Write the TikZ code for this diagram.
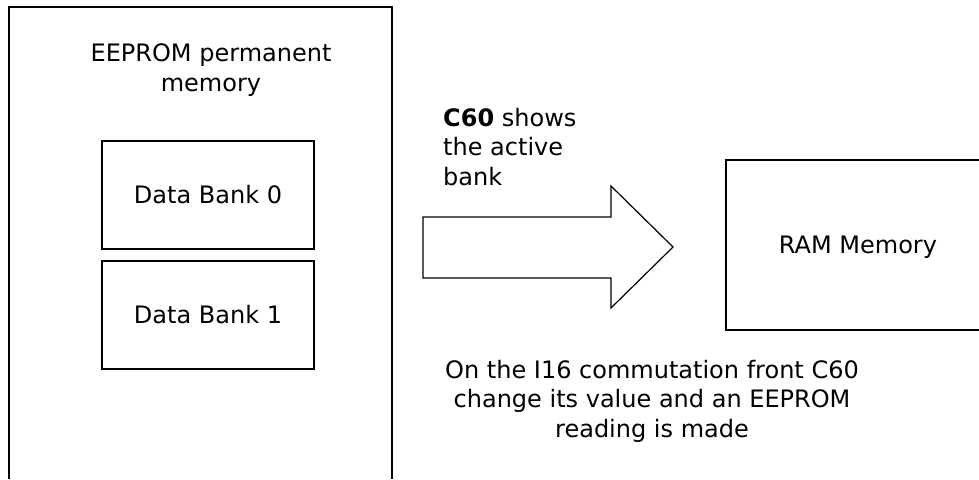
\documentclass[tikz,border=0pt]{standalone}
\usepackage{fontspec}
\setmainfont{DejaVu Sans}
\begin{document}
\begin{tikzpicture}[x=1pt,y=-1pt,
  txt/.style={inner sep=0pt,font=\fontsize{24}{29.5}\selectfont},
  frame/.style={line width=2pt,draw=black},
  bankbox/.style={frame,minimum width=212pt,minimum height=108pt,inner sep=0pt,font=\fontsize{24}{29.5}\selectfont}]
\useasboundingbox[fill=white] (0,0) rectangle (979,479);
% EEPROM outer frame (open at bottom)
\coordinate (eL) at (9,479);
\coordinate (eR) at (392,479);
\draw[frame] (eL) |- (392,7) -- (eR);
\node[txt,align=center,anchor=base] (eeprom) at (211,91) {EEPROM permanent\\memory};
\node[bankbox] (bank0) at (208,195) {Data Bank 0};
\node[bankbox] (bank1) at (208,315) {Data Bank 1};
% big arrow
\draw[line width=1.2pt] (423,217) -- (611,217) -- (611,186) -- (673,247) -- (611,308) -- (611,278) -- (423,278) -- cycle;
\node[txt,align=left,anchor=base west] (c60) at (443,185) {\textbf{C60} shows\\the active\\bank};
% RAM frame (open at right)
\coordinate (rT) at (979,160);
\coordinate (rB) at (979,330);
\draw[frame] (rT) -| (726,330) -- (rB);
\node[txt,anchor=base] (ram) at (858,253) {RAM Memory};
\node[txt,align=center,anchor=base] (note) at (652,437) {On the I16 commutation front C60\\change its value and an EEPROM\\reading is made};
\end{tikzpicture}
\end{document}
